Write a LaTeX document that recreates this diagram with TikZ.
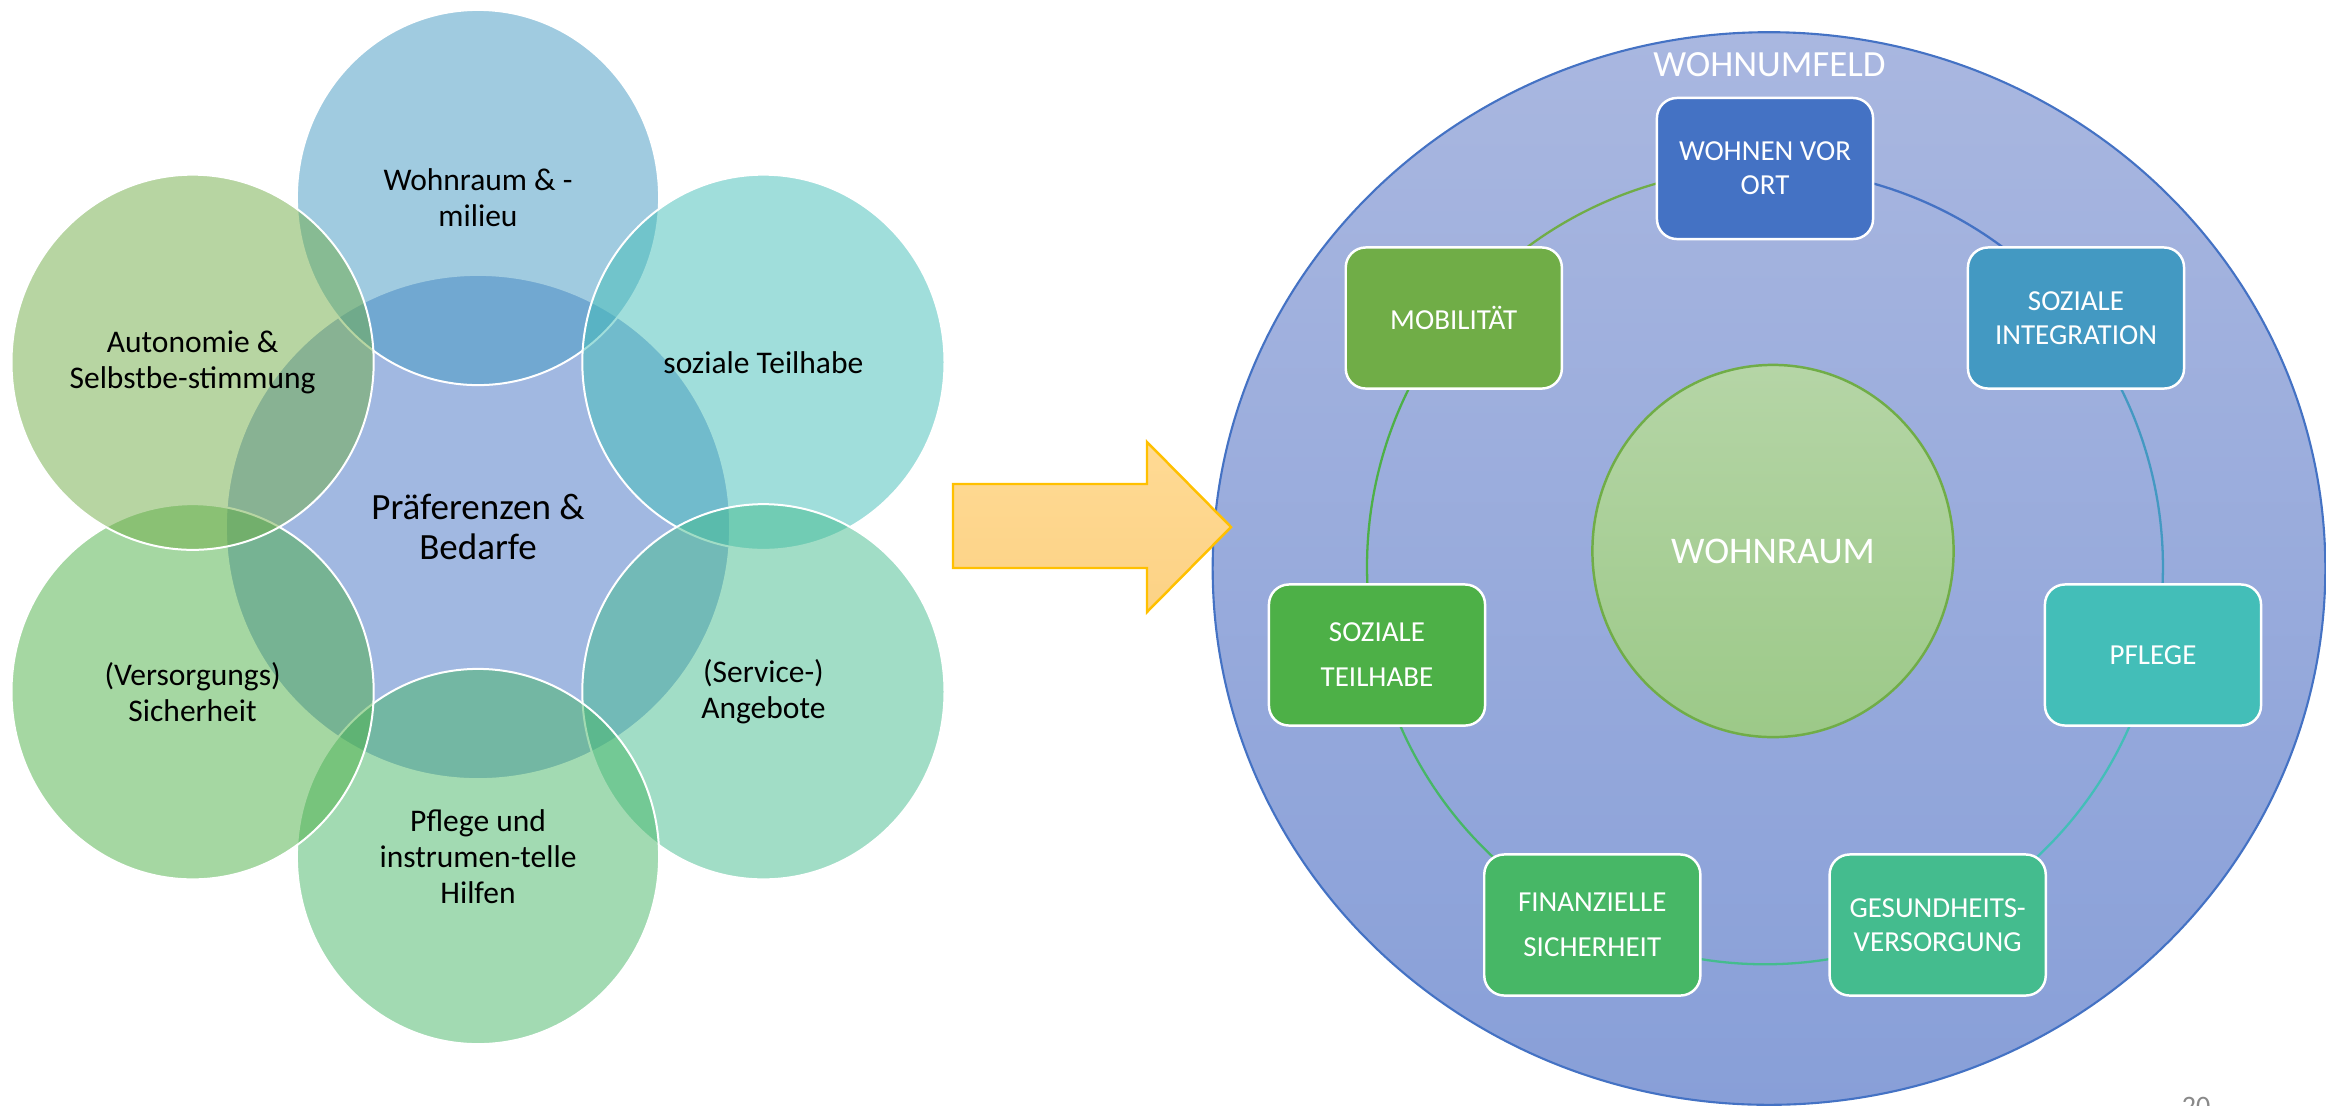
\documentclass[tikz,border=0pt]{standalone}
\usepackage{fontspec}
\setmainfont{Carlito}
\usetikzlibrary{shapes.geometric}
\definecolor{cBlue}{HTML}{4472C4}
\definecolor{cBlueTeal}{HTML}{4399C2}
\definecolor{cTeal}{HTML}{43BEB8}
\definecolor{cMint}{HTML}{44BC8E}
\definecolor{cGreenA}{HTML}{47B766}
\definecolor{cGreenB}{HTML}{4DB047}
\definecolor{cGreenC}{HTML}{70AD47}
\definecolor{umTop}{HTML}{A9B7E0}
\definecolor{umBot}{HTML}{889FD8}
\definecolor{wrTop}{HTML}{B5D5A6}
\definecolor{wrBot}{HTML}{9CC988}
\definecolor{arTop}{HTML}{FFDA94}
\definecolor{arBot}{HTML}{FCD285}
\definecolor{arLine}{HTML}{FFC000}
\definecolor{pageGray}{HTML}{898989}
\pgfdeclarelayer{back}
\pgfdeclarelayer{mid}
\pgfsetlayers{back,mid,main}
\begin{document}
\begin{tikzpicture}[x=0.01cm,y=-0.01cm,
  vennbase/.style={draw=white, line width=0.57pt, fill opacity=0.5, draw opacity=1, text opacity=1,
    inner sep=0pt, align=center, text=black, font=\fontsize{8.96pt}{10.24pt}\selectfont},
  sat/.style={vennbase, ellipse, minimum width=3.62cm, minimum height=3.75cm},
  cbox/.style={rectangle, rounded corners=0.2cm, draw=white, line width=0.7pt,
    minimum width=2.16cm, minimum height=1.41cm, inner sep=0pt, text=white, align=center,
    font=\fontsize{8.25pt}{9.67pt}\selectfont},
  cboxwide/.style={cbox, font=\fontsize{8.25pt}{12.8pt}\selectfont},
  ringarc/.style={line width=0.65pt, bend left=25.714, looseness=0.896},
  bigarrow/.style={draw=arLine, line width=0.7pt, top color=arTop, bottom color=arBot, line join=miter}
]
\useasboundingbox (0,0) rectangle (2326,1105);
\begin{pgfonlayer}{back}
  \fill[white] (0,0) rectangle (2326,1105);
  \node[ellipse, minimum width=11.12cm, minimum height=10.72cm, inner sep=0pt,
        top color=umTop, bottom color=umBot, draw=cBlue, line width=0.6pt] (umfeld) at (1769,568.5) {};
\end{pgfonlayer}

% ---------- left: radial venn ----------
\node[vennbase, circle, minimum size=5.04cm, fill=cBlue,
      font=\fontsize{10.53pt}{11.4pt}\selectfont] (pref) at (478,527) {Präferenzen \&\\Bedarfe};
\node[sat, fill=cBlueTeal] (wohn) at (478,197.5) {Wohnraum \& -\\milieu};
\node[sat, fill=cTeal] (teil) at (763.4,362.25) {soziale Teilhabe};
\node[sat, fill=cMint] (serv) at (763.4,691.75) {(Service-)\\Angebote};
\node[sat, fill=cGreenA] (pfl) at (478,856.5) {Pflege und\\instrumen-telle\\Hilfen};
\node[sat, fill=cGreenB] (vers) at (192.6,691.75) {(Versorgungs)\\Sicherheit};
\node[sat, fill=cGreenC] (auto) at (192.6,362.25) {Autonomie \&\\Selbstbe-stimmung};

% ---------- arrow ----------
\draw[bigarrow] (953,484) -- (1147,484) -- (1147,442) -- (1231,527) -- (1147,612) -- (1147,568) -- (953,568) -- cycle;

% ---------- right: cycle ----------
\node[font=\fontsize{10.5pt}{12pt}\selectfont, text=white, anchor=base, inner sep=0pt] (umtitle) at (1769.5,76) {WOHNUMFELD};
\node[ellipse, minimum width=3.61cm, minimum height=3.72cm, inner sep=0pt, top color=wrTop, bottom color=wrBot,
      draw=cGreenC, line width=0.7pt, text=white, font=\fontsize{10.7pt}{12pt}\selectfont] (raum) at (1773,551) {WOHNRAUM};

\node[cbox, fill=cBlue] (wvo) at (1765,168.5) {WOHNEN VOR\\ORT};
\node[cbox, fill=cBlueTeal] (soi) at (2076,318) {SOZIALE\\INTEGRATION};
\node[cbox, fill=cTeal] (pfg) at (2153,655) {PFLEGE};
\node[cbox, fill=cMint] (ges) at (1937.7,925) {GESUNDHEITS-\\VERSORGUNG};
\node[cboxwide, fill=cGreenA] (fin) at (1592.3,925) {FINANZIELLE\\SICHERHEIT};
\node[cboxwide, fill=cGreenB] (stl) at (1377,655) {SOZIALE\\TEILHABE};
\node[cbox, fill=cGreenC] (mob) at (1453.8,318) {MOBILITÄT};

\begin{pgfonlayer}{mid}
  \draw[ringarc, cBlue] (wvo.center) to (soi.center);
  \draw[ringarc, cBlueTeal] (soi.center) to (pfg.center);
  \draw[ringarc, cTeal] (pfg.center) to (ges.center);
  \draw[ringarc, cMint] (ges.center) to (fin.center);
  \draw[ringarc, cGreenA] (fin.center) to (stl.center);
  \draw[ringarc, cGreenB] (stl.center) to (mob.center);
  \draw[ringarc, cGreenC] (mob.center) to (wvo.center);
\end{pgfonlayer}

\node[anchor=north, inner sep=0pt, text=pageGray, font=\fontsize{8pt}{9pt}\selectfont] (pagenum) at (2196,1097) {20};
\end{tikzpicture}
\end{document}
